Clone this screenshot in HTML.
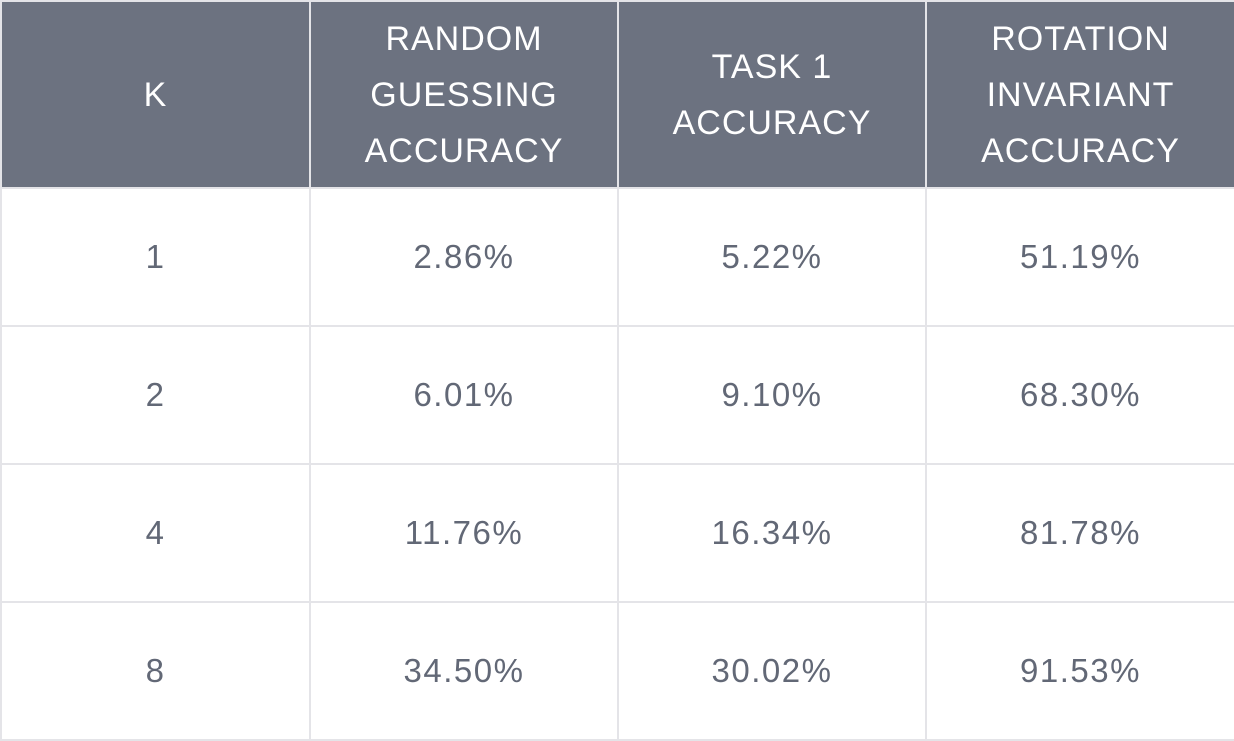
<!DOCTYPE html>
<html><head><meta charset="utf-8"><style>
body{margin:0;width:1234px;height:740px;background:#fff;overflow:hidden}
table{border-collapse:collapse;position:absolute;left:0;top:0;width:1234px;height:740px;table-layout:fixed;font-family:"Liberation Sans",Arial,sans-serif}
td,th{border:2px solid #e4e4e8;text-align:center;vertical-align:middle;padding:0}
th{background:#6c7280;color:#fff;font-weight:normal;font-size:34px;letter-spacing:1px;line-height:56px;height:185px}
td{color:#626876;font-size:33px;letter-spacing:1.5px;height:136px}
</style></head><body>
<table>
<colgroup><col style="width:309px"><col style="width:308px"><col style="width:308px"><col style="width:309px"></colgroup>
<tr>
<th>K</th>
<th>RANDOM<br>GUESSING<br>ACCURACY</th>
<th>TASK 1<br>ACCURACY</th>
<th>ROTATION<br>INVARIANT<br>ACCURACY</th>
</tr>
<tr><td>1</td><td>2.86%</td><td>5.22%</td><td>51.19%</td></tr>
<tr><td>2</td><td>6.01%</td><td>9.10%</td><td>68.30%</td></tr>
<tr><td>4</td><td>11.76%</td><td>16.34%</td><td>81.78%</td></tr>
<tr><td>8</td><td>34.50%</td><td>30.02%</td><td>91.53%</td></tr>
</table>
</body></html>
